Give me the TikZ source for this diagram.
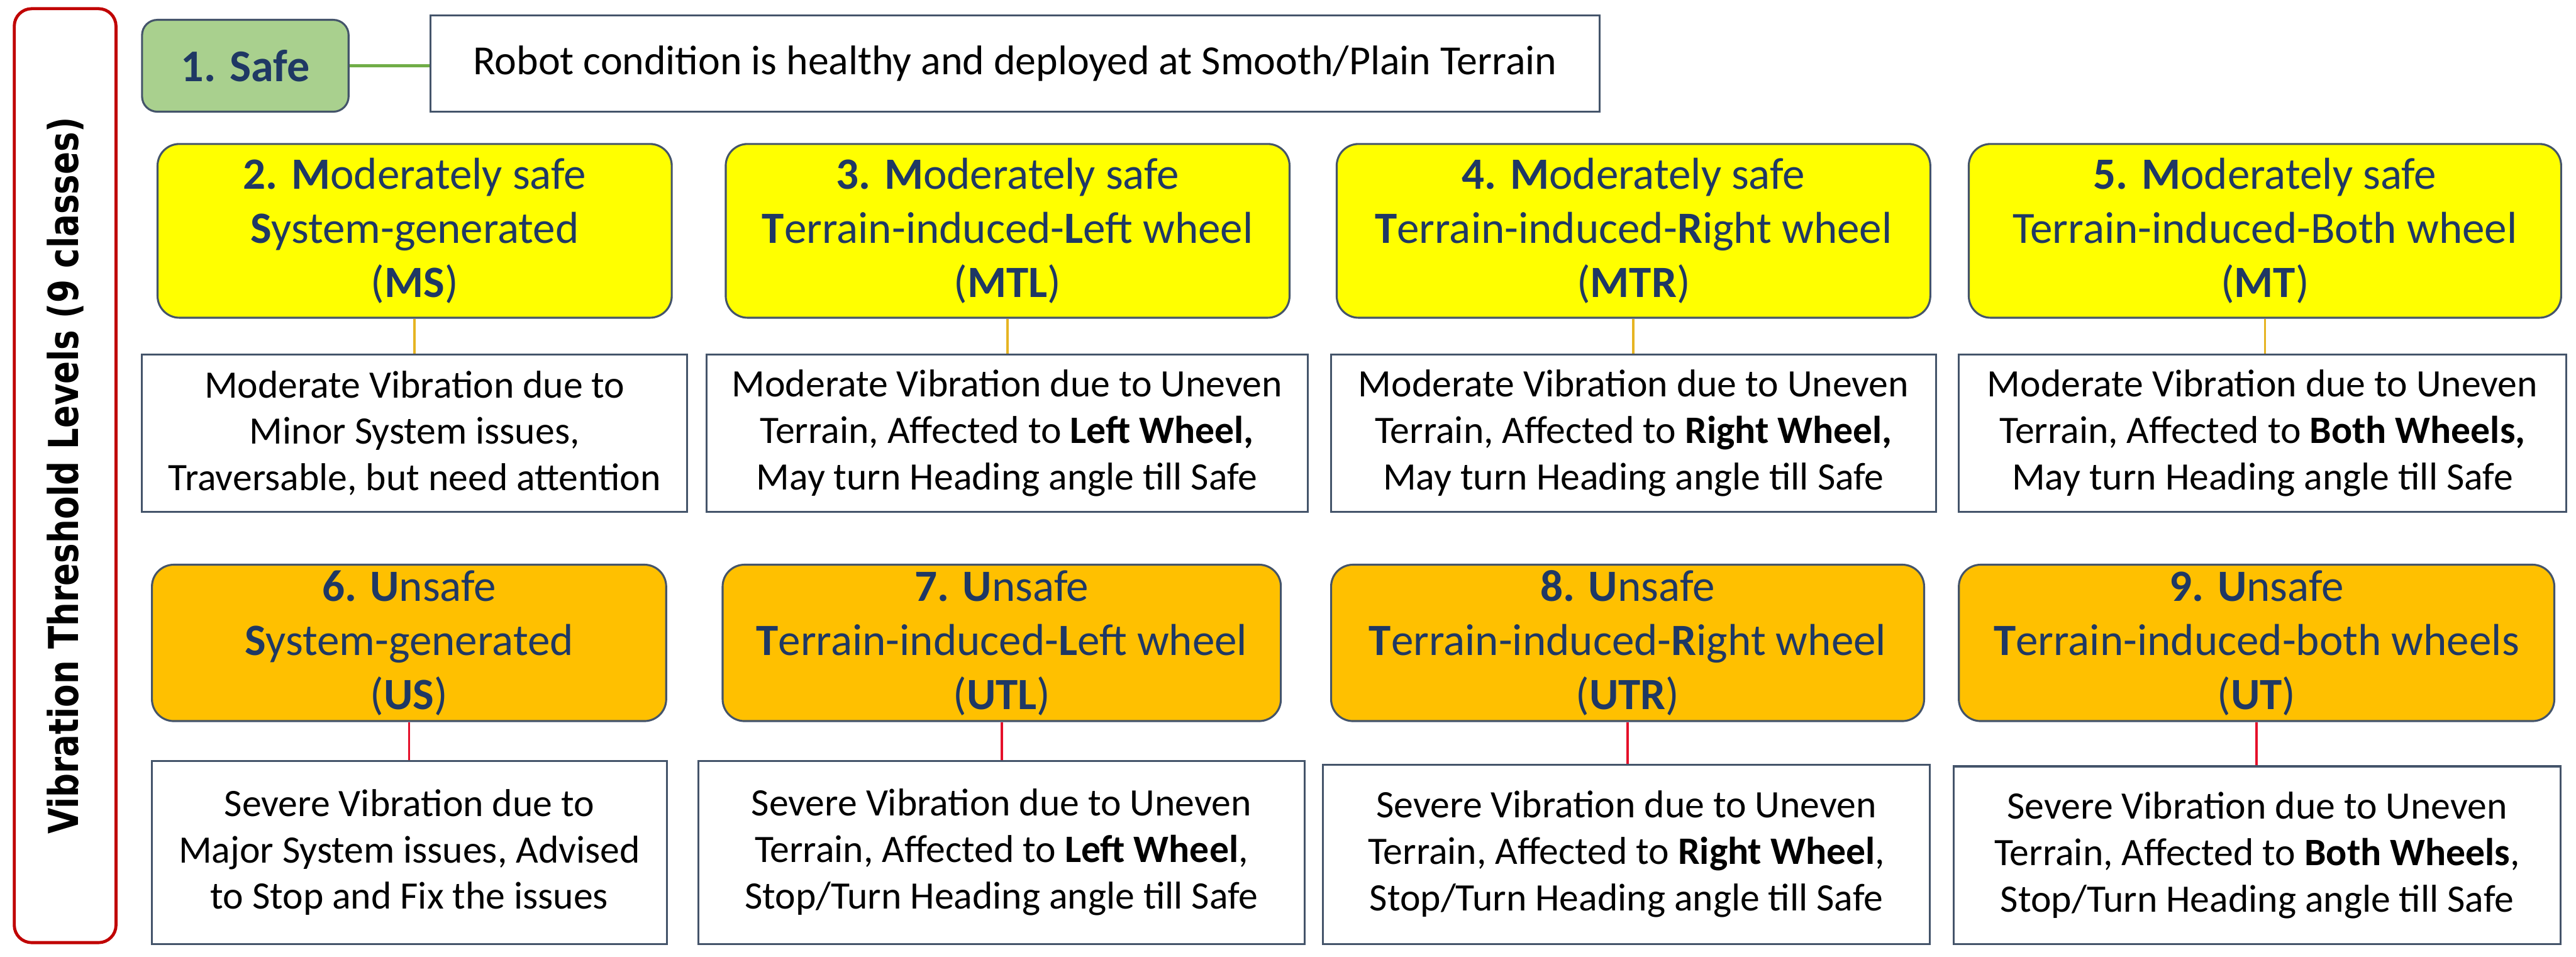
\documentclass[tikz,border=0pt]{standalone}
\usepackage{fontspec}
\setmainfont{Carlito}
\newfontfamily\widefont{DejaVu Sans}
\usepackage{graphicx}
\definecolor{navy}{HTML}{1F3864}
\definecolor{boxline}{HTML}{44546A}
\definecolor{safegreen}{HTML}{A9D08E}
\definecolor{linkgreen}{HTML}{70AD47}
\definecolor{ylw}{HTML}{FFFF00}
\definecolor{amber}{HTML}{FFC000}
\definecolor{linkgold}{HTML}{E6B422}
\definecolor{linkred}{HTML}{E5102A}
\definecolor{framered}{HTML}{C00000}
\usetikzlibrary{positioning}

\begin{document}
\begin{tikzpicture}[
  lvl/.style={draw=boxline, line width=0.9pt, rounded corners=10pt,
              align=center, text=navy, inner sep=0pt,
              font=\fontsize{20.5}{24.75}\selectfont},
  msbox/.style={lvl, fill=ylw, minimum height=2.8cm},
  usbox/.style={lvl, fill=amber, minimum height=2.52cm},
  info/.style={draw=boxline, line width=0.9pt, fill=white, align=center,
               inner sep=0pt, font=\fontsize{17.8}{21.3}\selectfont},
  goldlink/.style={draw=linkgold, line width=1.1pt},
  redlink/.style={draw=linkred, line width=1.1pt},
]
\useasboundingbox[fill=white] (0,0) rectangle (41.53,-15.42);

% side title
\node[draw=framered, line width=1.4pt, rounded corners=8pt, rotate=90,
      minimum width=15.05cm, minimum height=1.64cm, inner sep=0pt,
      font=\widefont\bfseries\fontsize{18.9}{22}\selectfont]
  (levels) at (1.05,-7.665) {\scalebox{0.81}[1]{Vibration Threshold Levels (9 classes)}};

% class 1
\node[lvl, fill=safegreen, rounded corners=7pt, minimum width=3.33cm,
      minimum height=1.48cm, font=\bfseries\fontsize{20.8}{24}\selectfont]
  (safe) at (3.955,-1.06) {1. Safe};
\node[info, minimum width=18.85cm, minimum height=1.55cm,
      font=\fontsize{19}{22}\selectfont]
  (safeinfo) at (16.365,-1.025) {Robot condition is healthy and deployed at Smooth/Plain Terrain};
\draw[draw=linkgreen, line width=1.7pt] (safe.east) -- (safe.east -| safeinfo.west);

% moderately safe
\node[msbox, minimum width=8.29cm] (ms) at (6.685,-3.72)
  {\textbf{2. M}oderately safe\\\textbf{S}ystem-generated\\(\textbf{MS})};
\node[msbox, minimum width=9.09cm] (mtl) at (16.245,-3.72)
  {\textbf{3. M}oderately safe\\\textbf{T}errain-induced-\textbf{L}eft wheel\\(\textbf{MTL})};
\node[msbox, minimum width=9.57cm] (mtr) at (26.335,-3.72)
  {\textbf{4. M}oderately safe\\\textbf{T}errain-induced-\textbf{R}ight wheel\\(\textbf{MTR})};
\node[msbox, minimum width=9.55cm] (mt) at (36.515,-3.72)
  {\textbf{5. M}oderately safe\\Terrain-induced-Both wheel\\(\textbf{MT})};

\node[info, minimum width=8.79cm, minimum height=2.54cm] (msinfo) at (6.685,-6.98)
  {Moderate Vibration due to\\Minor System issues,\\Traversable, but need attention};
\node[info, minimum width=9.69cm, minimum height=2.54cm] (mtlinfo) at (16.235,-6.98)
  {Moderate Vibration due to Uneven\\Terrain, Affected to \textbf{Left Wheel,}\\May turn Heading angle till Safe};
\node[info, minimum width=9.75cm, minimum height=2.54cm] (mtrinfo) at (26.335,-6.98)
  {Moderate Vibration due to Uneven\\Terrain, Affected to \textbf{Right Wheel,}\\May turn Heading angle till Safe};
\node[info, minimum width=9.79cm, minimum height=2.54cm] (mtinfo) at (36.475,-6.98)
  {Moderate Vibration due to Uneven\\Terrain, Affected to \textbf{Both Wheels,}\\May turn Heading angle till Safe};

\draw[goldlink] (ms.south) -- (ms.south |- msinfo.north);
\draw[goldlink] (mtl.south) -- (mtl.south |- mtlinfo.north);
\draw[goldlink] (mtr.south) -- (mtr.south |- mtrinfo.north);
\draw[goldlink] (mt.south) -- (mt.south |- mtinfo.north);

% unsafe
\node[usbox, minimum width=8.29cm] (us) at (6.595,-10.36)
  {\textbf{6. U}nsafe\\\textbf{S}ystem-generated\\(\textbf{US})};
\node[usbox, minimum width=9.00cm] (utl) at (16.15,-10.36)
  {\textbf{7. U}nsafe\\\textbf{T}errain-induced-\textbf{L}eft wheel\\(\textbf{UTL})};
\node[usbox, minimum width=9.56cm] (utr) at (26.24,-10.36)
  {\textbf{8. U}nsafe\\\textbf{T}errain-induced-\textbf{R}ight wheel\\(\textbf{UTR})};
\node[usbox, minimum width=9.60cm] (ut) at (36.38,-10.36)
  {\textbf{9. U}nsafe\\\textbf{T}errain-induced-both wheels\\(\textbf{UT})};

\node[info, minimum width=8.30cm, minimum height=2.95cm] (usinfo) at (6.60,-13.735)
  {Severe Vibration due to\\Major System issues, Advised\\to Stop and Fix the issues};
\node[info, minimum width=9.77cm, minimum height=2.95cm] (utlinfo) at (16.145,-13.735)
  {Severe Vibration due to Uneven\\Terrain, Affected to \textbf{Left Wheel},\\Stop/Turn Heading angle till Safe};
\node[info, minimum width=9.78cm, minimum height=2.89cm] (utrinfo) at (26.22,-13.765)
  {Severe Vibration due to Uneven\\Terrain, Affected to \textbf{Right Wheel},\\Stop/Turn Heading angle till Safe};
\node[info, minimum width=9.78cm, minimum height=2.86cm] (utinfo) at (36.39,-13.78)
  {Severe Vibration due to Uneven\\Terrain, Affected to \textbf{Both Wheels},\\Stop/Turn Heading angle till Safe};

\draw[redlink] (us.south) -- (us.south |- usinfo.north);
\draw[redlink] (utl.south) -- (utl.south |- utlinfo.north);
\draw[redlink] (utr.south) -- (utr.south |- utrinfo.north);
\draw[redlink] (ut.south) -- (ut.south |- utinfo.north);
\end{tikzpicture}
\end{document}
